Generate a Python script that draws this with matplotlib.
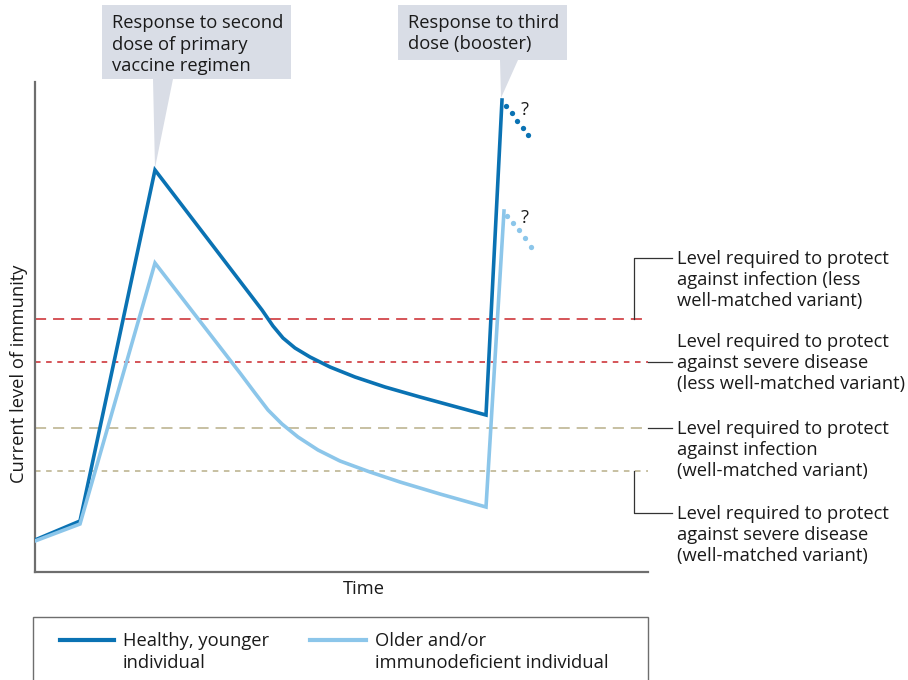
import matplotlib
matplotlib.use("Agg")
import matplotlib.pyplot as plt
from matplotlib.patches import Rectangle, Polygon
from matplotlib.lines import Line2D

plt.rcParams['font.family'] = ['Open Sans', 'DejaVu Sans']
plt.rcParams['lines.scale_dashes'] = False

# ---- data (arbitrary units) ----
healthy_time = [0, 45, 120, 227, 238, 248, 260, 275, 295, 320, 350, 385, 451, 467]
healthy_level = [32, 51, 402, 262, 246, 234, 224, 215, 205, 195, 185, 175, 157, 472]
healthy_proj_time = [471, 476.7, 482, 487.7, 493]
healthy_proj_level = [466, 459, 451, 444, 437]

older_time = [0, 45, 120, 205, 220, 233, 247, 263, 283, 305, 335, 365, 405, 451, 469]
older_level = [31, 48, 309, 199, 179, 162, 148, 135, 122, 111, 100, 90, 78, 65, 361]
older_proj_time = [472, 478, 484, 490, 496]
older_proj_level = [356, 349, 342, 334, 325]

threshold_levels = [253, 210, 144, 101]
threshold_labels = [
    ["Level required to protect", "against infection (less", "well-matched variant)"],
    ["Level required to protect", "against severe disease", "(less well-matched variant)"],
    ["Level required to protect", "against infection", "(well-matched variant)"],
    ["Level required to protect", "against severe disease", "(well-matched variant)"],
]
legend_labels = [["Healthy, younger", "individual"], ["Older and/or", "immunodeficient individual"]]
annot_texts = [["Response to second", "dose of primary", "vaccine regimen"],
               ["Response to third", "dose (booster)"]]

# ---- style ----
DARK = '#0a72b3'
LIGHT = '#8cc6ea'
RED = '#d2474b'
TAN = '#c3bb9b'
BOXC = '#d9dde6'
AXC = '#6e6e6e'
TXT = '#1a1a1a'
FS = 13.2

W, H = 908, 680
fig = plt.figure(figsize=(W / 100, H / 100), dpi=100)
# axes: left=35, right=648, top=82, bottom=572 (pixels)
ax = fig.add_axes([35 / W, (H - 572) / H, 613 / W, 490 / H])
ax.set_xlim(0, 613)
ax.set_ylim(0, 490)
for s in ['top', 'right']:
    ax.spines[s].set_visible(False)
for s in ['left', 'bottom']:
    ax.spines[s].set_color(AXC)
    ax.spines[s].set_linewidth(1.6)
ax.set_xticks([])
ax.set_yticks([])


def P(px, py):
    return px - 35, 572 - py


def lines_at(px, baselines, lines, **kw):
    for by, s in zip(baselines, lines):
        x, y = P(px, by)
        ax.text(x, y, s, fontsize=FS, color=TXT, ha='left', va='baseline', clip_on=False, **kw)


# thresholds
styles = [(RED, (8, 5)), (RED, (4, 4)), (TAN, (8, 5)), (TAN, (4, 4))]
for lvl, (c, d) in zip(threshold_levels, styles):
    ax.plot([0, 613], [lvl, lvl], color=c, lw=1.3, dashes=d, zorder=1)

# curves
ax.plot(healthy_time, healthy_level, color=DARK, lw=2.6, solid_joinstyle='miter', zorder=3)
ax.plot(older_time, older_level, color=LIGHT, lw=2.6, solid_joinstyle='miter', zorder=4)
ax.plot(healthy_proj_time, healthy_proj_level, 'o', color=DARK, ms=3.8, mew=0, zorder=3, clip_on=False)
ax.plot(older_proj_time, older_proj_level, 'o', color=LIGHT, ms=3.8, mew=0, zorder=4, clip_on=False)
ax.text(*P(525, 110), "?", fontsize=FS, color=TXT, ha='center', va='center')
ax.text(*P(525, 218), "?", fontsize=FS, color=TXT, ha='center', va='center')

# axis labels
ax.text(*P(364, 589), "Time", fontsize=FS, color=TXT, ha='center', va='center', clip_on=False)
ax.text(*P(19, 374), "Current level of immunity", fontsize=FS, color=TXT, ha='center',
        va='center', rotation=90, clip_on=False)

# threshold leaders and labels
lead_paths = [
    [P(634, 319), P(634, 258), P(672, 258)],
    [P(648, 362), P(672, 362)],
    [P(648, 428), P(672, 428)],
    [P(634, 471), P(634, 513), P(672, 513)],
]
for path in lead_paths:
    xs, ys = zip(*path)
    ax.add_line(Line2D(xs, ys, color='#333333', lw=0.9, clip_on=False))

label_baselines = [[264, 285, 306], [347, 368, 389], [434, 455, 476], [519, 540, 561]]
for lbl, bl in zip(threshold_labels, label_baselines):
    lines_at(677, bl, lbl)

# annotation boxes
boxes = [(102, 5, 291, 79), (398, 5, 567, 60)]
tris = [[(153, 79), (173, 79), (155, 168)], [(500, 60), (518, 60), (501, 98)]]
box_baselines = [[28, 50, 71], [28, 49]]
for (x0, y0, x1, y1), tri, t, bl in zip(boxes, tris, annot_texts, box_baselines):
    bx, by = P(x0, y1)
    ax.add_patch(Rectangle((bx, by), x1 - x0, y1 - y0, facecolor=BOXC, edgecolor='none',
                           clip_on=False, zorder=5))
    ax.add_patch(Polygon([P(*p) for p in tri], closed=True, facecolor=BOXC, edgecolor='none',
                         clip_on=False, zorder=5))
    lines_at(x0 + 10, bl, t, zorder=6)

# legend box
lx, ly = P(33, 690)
ax.add_patch(Rectangle((lx, ly), 615, 73, facecolor='white', edgecolor=AXC, lw=1.0, clip_on=False))
for (x0, x1, tx), c, lbl in zip([(60, 114, 123), (310, 366, 375)], [DARK, LIGHT], legend_labels):
    a, b = P(x0, 640)
    a2, _ = P(x1, 640)
    ax.add_line(Line2D([a, a2], [b, b], color=c, lw=3, clip_on=False))
    lines_at(tx, [646, 668], lbl)

fig.savefig("out.png", dpi=100)
